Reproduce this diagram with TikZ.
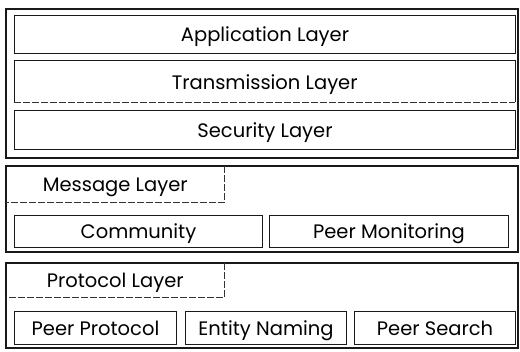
\documentclass[tikz,border=0pt]{standalone}
\usepackage{fontspec}
\setmainfont{Poppins}
\begin{document}
\begin{tikzpicture}[x=1pt,y=-1pt,
  lbl/.style={font=\fontsize{19.5}{22}\selectfont,text height=15pt,text depth=0pt},
  frame/.style={draw=black!90,line width=1.4pt},
  cell/.style={lbl,draw=black!90,line width=1pt,inner sep=0pt,anchor=north west},
  tag/.style={lbl,inner sep=0pt,anchor=north west},
  rough/.style={draw=black!80,line width=0.9pt,dash pattern=on 7pt off 2pt}]
\useasboundingbox[fill=white] (0,0) rectangle (520,352);
% upper stack: application, transmission, security
\draw[frame] (6,9) rectangle (518,158);
\node[cell,minimum width=501pt,minimum height=38pt] (app) at (14,15) {Application Layer};
\node[tag,minimum width=501pt,minimum height=41pt] (trans) at (14,61) {Transmission Layer};
\draw[draw=black!90,line width=1pt] (trans.south west) -- (trans.north west) -- (trans.north east) -- (trans.south east);
\draw[rough] (trans.south west) -- (trans.south east);
\node[cell,minimum width=501pt,minimum height=39pt] (sec) at (14,110) {Security Layer};
% message layer block
\draw[frame] (6,166) rectangle (518,252);
\node[tag,minimum width=218pt,minimum height=36pt] (msg) at (6,166) {Message Layer};
\draw[rough] (msg.north east) -- (msg.south east) -- (msg.south west);
\node[cell,minimum width=248pt,minimum height=32pt] (comm) at (14,215) {Community};
\node[cell,minimum width=239pt,minimum height=32pt] (mon) at (269,215) {Peer Monitoring};
% protocol layer block
\draw[frame] (6,263) rectangle (518,348);
\node[tag,minimum width=218pt,minimum height=34pt] (proto) at (6,263) {Protocol Layer};
\draw[rough] (proto.north east) -- (proto.south east) -- (proto.south west);
\node[cell,minimum width=162pt,minimum height=33pt] (pp) at (14,311) {Peer Protocol};
\node[cell,minimum width=161pt,minimum height=33pt] (en) at (185,311) {Entity Naming};
\node[cell,minimum width=161pt,minimum height=33pt] (ps) at (354,311) {Peer Search};
\end{tikzpicture}
\end{document}
